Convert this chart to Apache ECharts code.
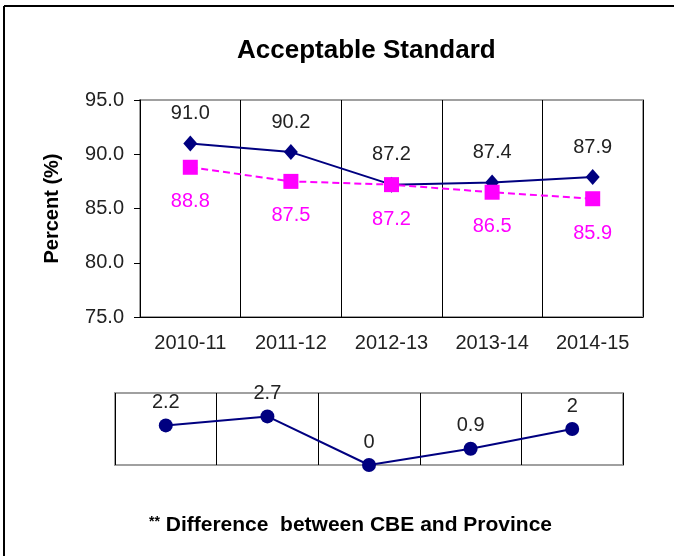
<!DOCTYPE html>
<html lang="en">
<head>
    <meta charset="UTF-8">
    <title>Acceptable Standard</title>
    <script src="https://cdn.jsdelivr.net/npm/echarts@6/dist/echarts.min.js"></script>
    <style>
        html, body { margin: 0; padding: 0; background: #fff; }
        #chart { width: 674px; height: 556px; }
    </style>
</head>
<body>
    <div id="chart"></div>
    <script>
        // data
        const years = ["2010-11", "2011-12", "2012-13", "2013-14", "2014-15"];
        const cbe = [91.0, 90.2, 87.2, 87.4, 87.9];
        const province = [88.8, 87.5, 87.2, 86.5, 85.9];
        const diff = [2.2, 2.7, 0, 0.9, 2];
        const yTicks = [75, 80, 85, 90, 95];

        const font = "Liberation Sans, Arial, sans-serif";
        const navy = "#000080";
        const pink = "#ff00ff";

        var myChart = echarts.init(document.getElementById("chart"));

        const option = {
            backgroundColor: "#fff",
            animation: false,
            textStyle: { fontFamily: font },
            title: [{
                text: "Acceptable Standard",
                left: 232,
                top: 33,
                textStyle: { fontSize: 26, fontWeight: "bold", color: "#000", fontFamily: font }
            }, {
                text: "{s|**} Difference  between CBE and Province",
                left: 144,
                top: 510,
                textStyle: {
                    fontSize: 21, fontWeight: "bold", color: "#000", fontFamily: font,
                    rich: { s: { fontSize: 14, fontWeight: "bold", verticalAlign: "top", padding: [0, 0, 6, 0] } }
                }
            }],
            graphic: [
                // outer frame (left and top edges only, like the reference)
                { type: "line", shape: { x1: 4, y1: 6, x2: 674, y2: 6 }, style: { stroke: "#000", lineWidth: 2 } },
                { type: "line", shape: { x1: 4, y1: 6, x2: 4, y2: 556 }, style: { stroke: "#000", lineWidth: 2 } }
            ],
            grid: [{
                left: 140, top: 100, width: 503, height: 217,
                show: true, borderColor: "#a0a0a0", borderWidth: 2
            }, {
                left: 115, top: 393, width: 508, height: 72,
                show: true, borderColor: "#a0a0a0", borderWidth: 2
            }],
            xAxis: [{
                gridIndex: 0,
                type: "category",
                data: years,
                boundaryGap: true,
                axisLine: { lineStyle: { color: "#000", width: 1 } },
                axisTick: { length: 6, lineStyle: { color: "#000" } },
                splitLine: { show: true, lineStyle: { color: "#000", width: 1 } },
                axisLabel: { margin: 16, fontSize: 20, color: "#222", fontFamily: font }
            }, {
                gridIndex: 1,
                type: "category",
                data: years,
                boundaryGap: true,
                axisLine: { show: false },
                axisTick: { show: false },
                axisLabel: { show: false },
                splitLine: { show: true, lineStyle: { color: "#000", width: 1 } }
            }],
            yAxis: [{
                gridIndex: 0,
                type: "value",
                min: yTicks[0],
                max: yTicks[yTicks.length - 1],
                interval: 5,
                name: "Percent (%)",
                nameLocation: "middle",
                nameGap: 78,
                nameTextStyle: { fontSize: 20, fontWeight: "bold", color: "#000", fontFamily: font },
                axisLine: { show: true, lineStyle: { color: "#000", width: 1 } },
                axisTick: { show: true, length: 6, lineStyle: { color: "#000" } },
                splitLine: { show: false },
                axisLabel: {
                    margin: 16, fontSize: 20, color: "#222", fontFamily: font,
                    formatter: function (v) { return v.toFixed(1); }
                }
            }, {
                gridIndex: 1,
                type: "value",
                min: 0,
                max: 4,
                show: false,
                splitLine: { show: false }
            }],
            series: [{
                name: "CBE",
                type: "line",
                xAxisIndex: 0,
                yAxisIndex: 0,
                data: cbe,
                symbol: "diamond",
                symbolSize: [14, 16],
                lineStyle: { color: navy, width: 2 },
                itemStyle: { color: navy },
                label: {
                    show: true,
                    position: "top",
                    distance: 12,
                    fontSize: 20,
                    color: "#222",
                    fontFamily: font,
                    formatter: function (p) { return p.value.toFixed(1); }
                },
                z: 3
            }, {
                name: "Province",
                type: "line",
                xAxisIndex: 0,
                yAxisIndex: 0,
                data: province,
                symbol: "rect",
                symbolSize: 15,
                lineStyle: { color: pink, width: 2, type: [7, 4] },
                itemStyle: { color: pink },
                label: {
                    show: true,
                    position: "bottom",
                    distance: 17,
                    fontSize: 20,
                    color: pink,
                    fontFamily: font,
                    formatter: function (p) { return p.value.toFixed(1); }
                },
                z: 4
            }, {
                name: "Difference",
                type: "line",
                xAxisIndex: 1,
                yAxisIndex: 1,
                data: diff,
                symbol: "circle",
                symbolSize: 14,
                clip: false,
                lineStyle: { color: navy, width: 2 },
                itemStyle: { color: navy },
                label: {
                    show: true,
                    position: "top",
                    distance: 6,
                    fontSize: 20,
                    color: "#222",
                    fontFamily: font
                }
            }]
        };

        myChart.setOption(option);
    </script>
</body>
</html>
